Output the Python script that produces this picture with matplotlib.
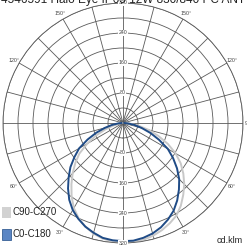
import numpy as np
import matplotlib.pyplot as plt

plt.rcParams['font.family'] = ['Liberation Sans', 'DejaVu Sans']

title = "4546591 Halo Eye IP65 12W 830/840 PC ANT"

# gamma angles from nadir (deg)
angles = [0, 5, 10, 15, 20, 25, 30, 35, 40, 45, 50, 55, 60, 65, 70, 75, 80, 85, 90]

# intensities (cd/klm)
c0 = [316, 315, 311, 305, 296, 284, 270, 252, 232, 212, 188, 163, 138, 106, 78, 52, 32, 14, 4]
c180 = [315, 314, 311, 303, 294, 282, 268, 250, 228, 205, 183, 158, 135, 104, 76, 50, 30, 13, 4]
c90 = [318, 318, 316, 311, 304, 295, 285, 269, 250, 231, 210, 188, 162, 132, 100, 70, 42, 18, 5]
c270 = [318, 317, 313, 305, 294, 280, 262, 239, 214, 190, 166, 142, 110, 80, 50, 28, 14, 6, 2]

ring_values = [40, 80, 120, 160, 200, 240, 280, 320]
ring_labels = [80, 160, 240, 320]
angle_labels = [30, 60, 90, 120, 150]


def full_curve(right, left):
    a = np.array(angles, dtype=float)
    th = np.concatenate([-a[::-1], a[1:]])
    r = np.concatenate([np.array(left)[::-1], np.array(right)[1:]])
    return np.radians(th), r


fig = plt.figure(figsize=(2.47, 2.47), dpi=100)
ax = fig.add_axes([3 / 247, 4 / 247, 240 / 247, 240 / 247], projection='polar')
ax.set_theta_zero_location('S')
ax.set_theta_direction(1)
ax.set_ylim(0, 320)

ax.set_rgrids(ring_values, labels=[''] * len(ring_values))
ax.set_thetagrids(np.arange(0, 360, 15), labels=[''] * 24)
ax.grid(True, color='#5a5a5a', linewidth=0.6)
ax.spines['polar'].set_color('#5a5a5a')
ax.spines['polar'].set_linewidth(0.6)

th, r = full_curve(c90, c270)
ax.plot(th, r, color='#c8c8c8', linewidth=1.4)
th, r = full_curve(c0, c180)
ax.plot(th, r, color='#1f4b86', linewidth=1.4)

for v in ring_labels:
    for t in (0, np.pi):
        ax.text(t, v, str(v), fontsize=3.8, color='#444444', ha='center', va='center',
                bbox=dict(facecolor='white', edgecolor='none', pad=0.3), zorder=5)

for a in angle_labels:
    for s in (1, -1):
        lab = f"{a}\u00b0"
        ax.text(np.radians(s * a), 336, lab, fontsize=3.8, color='#444444',
                ha='center', va='center', clip_on=False)

fig.text(0.5, 1 - 3 / 247, title, fontsize=8.5, ha='center', va='baseline', color='#222222')

# legend
fig.patches.append(plt.Rectangle((2 / 247, 1 - 218 / 247), 9 / 247, 11 / 247,
                                 transform=fig.transFigure, facecolor='#d2d2d2', edgecolor='none'))
fig.patches.append(plt.Rectangle((2 / 247, 1 - 240 / 247), 9 / 247, 11 / 247,
                                 transform=fig.transFigure, facecolor='#5b86c4', edgecolor='#1f4b86',
                                 linewidth=0.5))
fig.text(12 / 247, 1 - 212 / 247, "C90-C270", fontsize=7, va='center', color='#222222')
fig.text(12 / 247, 1 - 234 / 247, "C0-C180", fontsize=7, va='center', color='#222222')
fig.text(243 / 247, 1 - 240 / 247, "cd.klm", fontsize=6.5, ha='right', va='center', color='#222222')

fig.savefig('out.png', dpi=100)
